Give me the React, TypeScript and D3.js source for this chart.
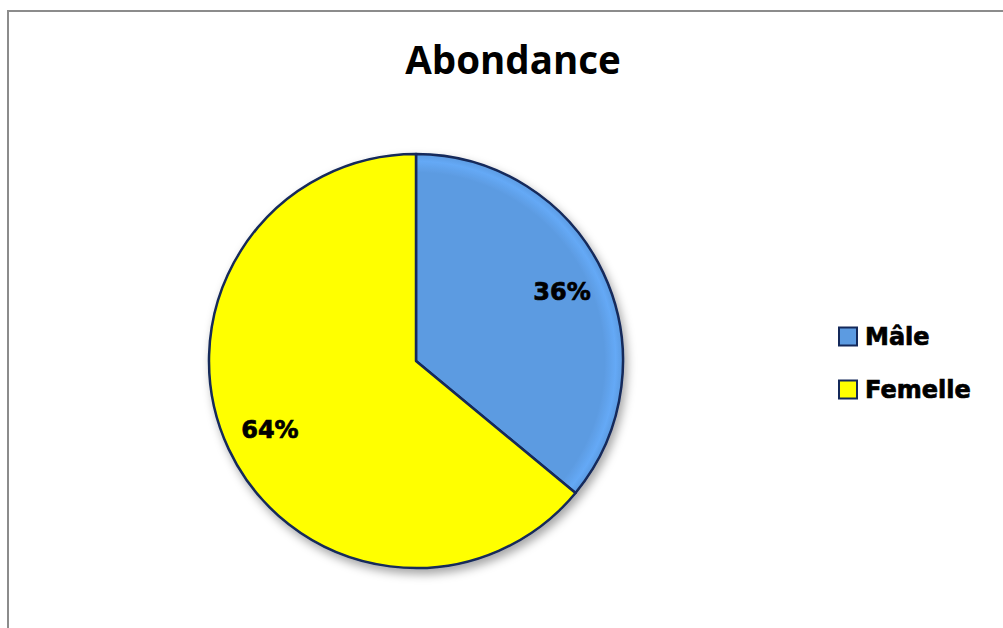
import React from "react";
import * as d3 from "d3";

const categories = ["Mâle", "Femelle"];
const values = [36, 64];
const labels = ["36%", "64%"];
const colors = ["#5c9be1", "#ffff00"];
const title = "Abondance";

const W = 1003;
const H = 628;
const cx = 416;
const cy = 361;
const R = 207;

export default function App() {
  const pie = d3.pie<number>().sort(null).value((d) => d);
  const arcs = pie(values);
  const arc = d3.arc<d3.PieArcDatum<number>>().innerRadius(0).outerRadius(R);
  const labelArc = d3
    .arc<d3.PieArcDatum<number>>()
    .innerRadius(R * 0.78)
    .outerRadius(R * 0.78);

  const legendY = d3.scaleBand<string>().domain(categories).range([310, 416]);

  return (
    <svg
      width={W}
      height={H}
      style={{ position: "absolute", left: 0, top: 0, background: "#fff" }}
    >
      <defs>
        <filter id="sh" x="-20%" y="-20%" width="140%" height="140%">
          <feDropShadow dx="3" dy="5" stdDeviation="5" floodColor="#000" floodOpacity="0.35" />
        </filter>
        {colors.map((c, i) => (
          <radialGradient
            key={i}
            id={`g${i}`}
            gradientUnits="userSpaceOnUse"
            cx={0}
            cy={0}
            r={R}
          >
            <stop offset="0" stopColor={c} />
            <stop offset="0.91" stopColor={c} />
            <stop offset="0.965" stopColor={d3.color(c)!.brighter(0.25).formatHex()} />
            <stop offset="1" stopColor={c} />
          </radialGradient>
        ))}
      </defs>
      <rect x={8} y={11} width={1100} height={700} fill="#fff" stroke="#8c8c8c" strokeWidth={2} />
      <text
        x={513}
        y={74}
        textAnchor="middle"
        fontFamily="'Open Sans', sans-serif"
        fontWeight="bold"
        fontSize={38.5}
        fill="#000"
      >
        {title}
      </text>
      <g transform={`translate(${cx},${cy})`}>
        <g filter="url(#sh)">
          {arcs.map((a, i) => (
            <path
              key={i}
              d={arc(a) || ""}
              fill={`url(#g${i})`}
              stroke="#14295a"
              strokeWidth={2.5}
              strokeLinejoin="round"
            />
          ))}
        </g>
        {arcs.map((a, i) => {
          const [lx, ly] = labelArc.centroid(a);
          return (
            <text
              key={i}
              x={lx}
              y={ly}
              textAnchor="middle"
              dominantBaseline="central"
              fontFamily="'DejaVu Sans', sans-serif"
              fontWeight="bold"
              fontSize={24}
              fill="#000"
              stroke="#000"
              strokeWidth={0.7}
            >
              {labels[i]}
            </text>
          );
        })}
      </g>
      <g>
        {categories.map((c, i) => {
          const y = (legendY(c) || 0) + legendY.bandwidth() / 2;
          return (
            <g key={c}>
              <rect
                x={839}
                y={y - 9}
                width={18}
                height={18}
                fill={colors[i]}
                stroke="#14295a"
                strokeWidth={2}
              />
              <text
                x={865}
                y={y}
                dominantBaseline="central"
                fontFamily="'DejaVu Sans', sans-serif"
                fontWeight="bold"
                fontSize={24}
                fill="#000"
                stroke="#000"
                strokeWidth={0.7}
              >
                {c}
              </text>
            </g>
          );
        })}
      </g>
    </svg>
  );
}
